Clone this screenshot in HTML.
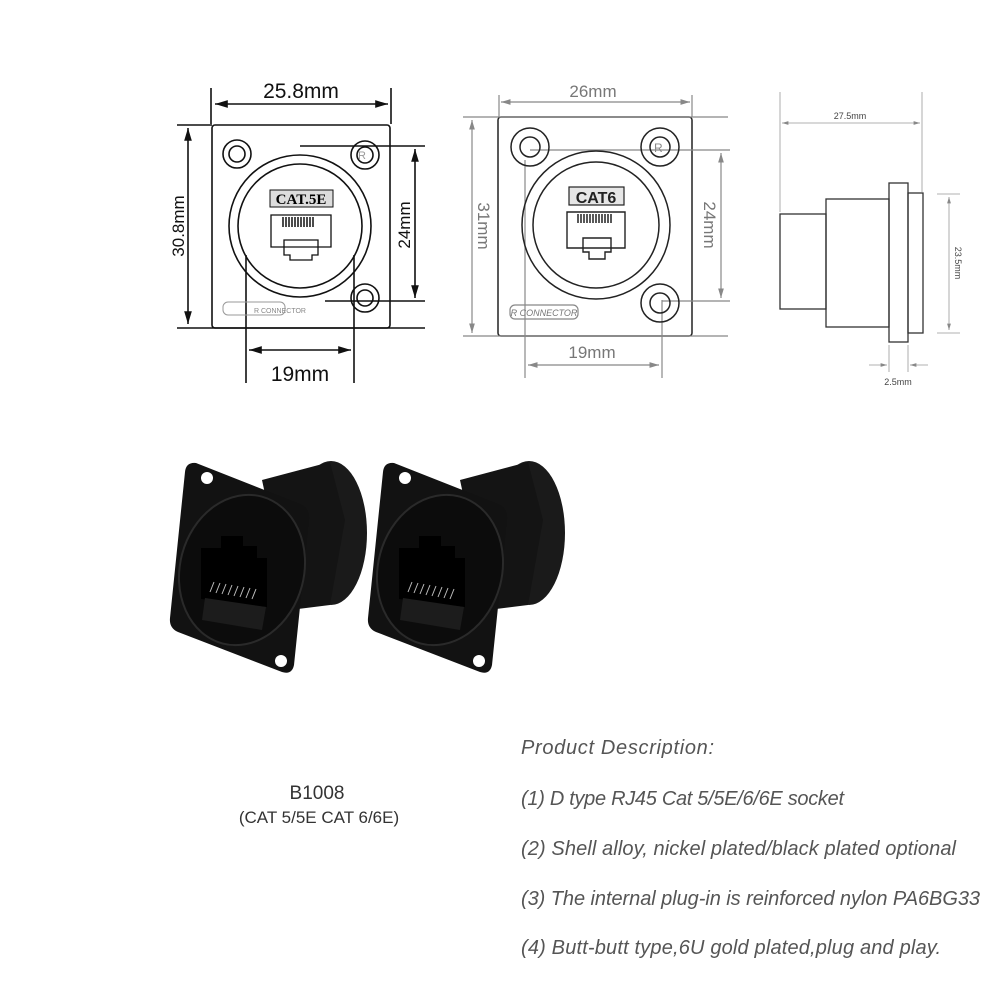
<!DOCTYPE html>
<html><head><meta charset="utf-8"><style>
html,body{margin:0;padding:0;background:#fff;}
svg{display:block;}
</style></head><body>
<svg width="1000" height="1000" viewBox="0 0 1000 1000" xmlns="http://www.w3.org/2000/svg" font-family="Liberation Sans, sans-serif">
<defs>
<marker id="a" viewBox="0 0 10 10" refX="10" refY="5" markerWidth="8" markerHeight="8" orient="auto-start-reverse"><path d="M0,2 L10,5 L0,8z" fill="#111"/></marker>
<marker id="g" viewBox="0 0 10 10" refX="10" refY="5" markerWidth="8" markerHeight="8" orient="auto-start-reverse"><path d="M0,2 L10,5 L0,8z" fill="#888"/></marker>
</defs>

<!-- Diagram 1 -->
<g stroke="#111" fill="none" stroke-width="1.6">
<rect x="212" y="125" width="178" height="203" rx="3"/>
<line x1="211" y1="88" x2="211" y2="124"/><line x1="391" y1="88" x2="391" y2="124"/>
<line x1="215" y1="104" x2="388" y2="104" marker-start="url(#a)" marker-end="url(#a)"/>
<line x1="177" y1="125" x2="212" y2="125"/><line x1="177" y1="328" x2="425" y2="328"/>
<line x1="188" y1="128" x2="188" y2="324" marker-start="url(#a)" marker-end="url(#a)"/>
<circle cx="300" cy="226" r="71"/><circle cx="300" cy="226" r="62"/>
<circle cx="237" cy="154" r="14"/><circle cx="237" cy="154" r="8"/>
<circle cx="365" cy="155" r="14"/><circle cx="365" cy="155" r="8"/>
<circle cx="365" cy="298" r="14"/><circle cx="365" cy="298" r="8"/>
<line x1="300" y1="146" x2="425" y2="146"/><line x1="325" y1="301" x2="425" y2="301"/>
<line x1="415" y1="149" x2="415" y2="298" marker-start="url(#a)" marker-end="url(#a)"/>
<line x1="246" y1="255" x2="246" y2="383"/><line x1="354" y1="255" x2="354" y2="383"/>
<line x1="249" y1="350" x2="351" y2="350" marker-start="url(#a)" marker-end="url(#a)"/>
<rect x="270" y="190" width="63" height="17" fill="#ddd" stroke-width="1"/>
<path d="M271,215 h60 v32 h-60z M284,240 h34 v15 h-6 v5 h-22 v-5 h-6z" stroke-width="1.3"/>
<rect x="223" y="302" width="62" height="13" rx="5" stroke="#999" stroke-width="1"/>
</g>
<g stroke="#111" stroke-width="1.5"><path d="M283,217 v10 M286,217 v10 M289,217 v10 M292,217 v10 M295,217 v10 M298,217 v10 M301,217 v10 M304,217 v10 M307,217 v10 M310,217 v10 M313,217 v10"/></g>
<text x="301" y="204" font-size="15" font-weight="bold" text-anchor="middle" font-family="Liberation Serif, serif">CAT.5E</text>
<text x="254" y="313" font-size="7" fill="#888">R CONNECTOR</text>
<text x="358" y="159" font-size="11" fill="#999">R</text>
<text x="301" y="98" font-size="21" text-anchor="middle" fill="#111">25.8mm</text>
<text x="300" y="381" font-size="21" text-anchor="middle" fill="#111">19mm</text>
<text transform="translate(184,226) rotate(-90)" font-size="17" text-anchor="middle" fill="#111">30.8mm</text>
<text transform="translate(410,225) rotate(-90)" font-size="17" text-anchor="middle" fill="#111">24mm</text>

<!-- Diagram 2 -->
<g stroke="#222" fill="none" stroke-width="1.5">
<rect x="498" y="117" width="194" height="219" rx="3"/>
</g>
<g stroke="#888" fill="none" stroke-width="1.2">
<line x1="499" y1="95" x2="499" y2="117"/><line x1="692" y1="95" x2="692" y2="117"/>
<line x1="501" y1="102" x2="690" y2="102" marker-start="url(#g)" marker-end="url(#g)"/>
<line x1="463" y1="117" x2="728" y2="117"/><line x1="463" y1="336" x2="728" y2="336"/>
<line x1="472" y1="120" x2="472" y2="333" marker-start="url(#g)" marker-end="url(#g)"/>
<line x1="530" y1="150" x2="730" y2="150"/><line x1="662" y1="301" x2="730" y2="301"/>
<line x1="721" y1="153" x2="721" y2="298" marker-start="url(#g)" marker-end="url(#g)"/>
<line x1="525" y1="160" x2="525" y2="378"/><line x1="662" y1="300" x2="662" y2="378"/>
<line x1="528" y1="365" x2="659" y2="365" marker-start="url(#g)" marker-end="url(#g)"/>
</g>
<g stroke="#222" fill="none" stroke-width="1.5">
<circle cx="596" cy="225" r="74"/><circle cx="596" cy="225" r="63"/>
<circle cx="530" cy="147" r="19"/><circle cx="530" cy="147" r="10"/>
<circle cx="660" cy="147" r="19"/><circle cx="660" cy="147" r="10"/>
<circle cx="660" cy="303" r="19"/><circle cx="660" cy="303" r="10"/>
<rect x="569" y="187" width="55" height="18" fill="#e6e6e6" stroke-width="1.2"/>
<path d="M567,212 h58 v36 h-58z M583,238 h28 v14 h-6 v7 h-16 v-7 h-6z" stroke-width="1.4"/>
<rect x="510" y="305" width="68" height="14" rx="5" stroke="#888" stroke-width="1.2"/>
</g>
<g stroke="#222" stroke-width="1.5"><path d="M578,214 v9 M581,214 v9 M584,214 v9 M587,214 v9 M590,214 v9 M593,214 v9 M596,214 v9 M599,214 v9 M602,214 v9 M605,214 v9 M608,214 v9 M611,214 v9"/></g>
<text x="596" y="203" font-size="16" font-weight="bold" text-anchor="middle" fill="#222">CAT6</text>
<text x="544" y="316" font-size="9" fill="#777" text-anchor="middle" font-style="italic">R CONNECTOR</text>
<text x="654" y="152" font-size="12" fill="#888">R</text>
<text x="593" y="97" font-size="17" text-anchor="middle" fill="#777">26mm</text>
<text x="592" y="358" font-size="17" text-anchor="middle" fill="#777">19mm</text>
<text transform="translate(478,226) rotate(90)" font-size="17" text-anchor="middle" fill="#777">31mm</text>
<text transform="translate(704,225) rotate(90)" font-size="17" text-anchor="middle" fill="#777">24mm</text>

<!-- Side view -->
<g stroke="#333" fill="none" stroke-width="1.3">
<rect x="780" y="214" width="46" height="95"/>
<rect x="826" y="199" width="63" height="128"/>
<rect x="889" y="183" width="19" height="159"/>
<rect x="908" y="193" width="15" height="140"/>
</g>
<g stroke="#999" fill="none" stroke-width="0.8">
<line x1="780" y1="92" x2="780" y2="212"/><line x1="922" y1="92" x2="922" y2="192"/>
<line x1="782" y1="123" x2="920" y2="123" marker-start="url(#g)" marker-end="url(#g)"/>
<line x1="937" y1="194" x2="960" y2="194"/><line x1="937" y1="333" x2="960" y2="333"/>
<line x1="949" y1="197" x2="949" y2="330" marker-start="url(#g)" marker-end="url(#g)"/>
<line x1="889" y1="345" x2="889" y2="372"/><line x1="908" y1="345" x2="908" y2="372"/>
<line x1="869" y1="365" x2="887" y2="365" marker-end="url(#g)"/><line x1="928" y1="365" x2="910" y2="365" marker-end="url(#g)"/>
</g>
<text x="850" y="119" font-size="9" text-anchor="middle" fill="#444">27.5mm</text>
<text x="898" y="385" font-size="9" text-anchor="middle" fill="#444">2.5mm</text>
<text transform="translate(955,263) rotate(90)" font-size="9" text-anchor="middle" fill="#444">23.5mm</text>

<!-- Photos -->
<g id="c1">
<ellipse cx="331" cy="533" rx="36" ry="72" fill="#1a1a1a"/>
<path d="M262,480 L330,462 L345,520 L330,605 L290,610z" fill="#141414"/>
<path d="M196,463 Q186,462 185,472 L170,618 Q169,628 178,632 L282,672 Q292,675 294,665 L309,520 Q310,508 300,504z" fill="#121212"/>
<circle cx="207" cy="478" r="6" fill="#fff"/>
<circle cx="281" cy="661" r="6" fill="#fff"/>
<ellipse cx="242" cy="570" rx="62" ry="76" transform="rotate(15 242 570)" fill="#0c0c0c" stroke="#2a2a2a" stroke-width="2"/>
<path d="M201,548 h20 v-12 h22 v10 h14 v12 h10 v49 l-66,-8z" fill="#000"/>
<g stroke="#bbb" stroke-width="1"><path d="M210,592 l4,-10 M216,593 l4,-10 M222,594 l4,-10 M228,595 l4,-10 M234,596 l4,-10 M240,597 l4,-10 M246,598 l4,-10 M252,599 l4,-10"/></g>
<path d="M205,598 L266,607 L262,630 L202,620z" fill="#1c1c1c"/>
</g>
<use href="#c1" transform="translate(198,0)"/>

<!-- Text -->
<text x="317" y="799" font-size="19" text-anchor="middle" fill="#333">B1008</text>
<text x="319" y="823" font-size="17" text-anchor="middle" fill="#333">(CAT 5/5E CAT 6/6E)</text>
<g font-style="italic" fill="#555" font-size="20">
<text x="521" y="754" textLength="193">Product Description:</text>
<text x="521" y="805" textLength="323">(1) D type RJ45 Cat 5/5E/6/6E socket</text>
<text x="521" y="855" textLength="435">(2) Shell alloy, nickel plated/black plated optional</text>
<text x="521" y="905" textLength="459">(3) The internal plug-in is reinforced nylon PA6BG33</text>
<text x="521" y="954" textLength="420">(4) Butt-butt type,6U gold plated,plug and play.</text>
</g>
</svg>
</body></html>
